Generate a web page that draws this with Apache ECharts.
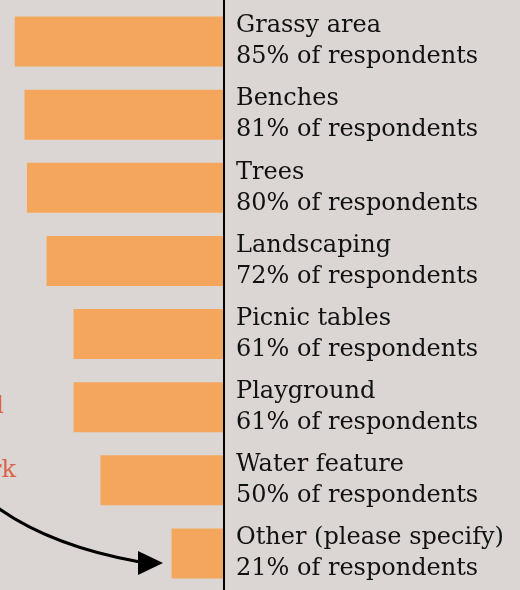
<!DOCTYPE html>
<html>
<head>
<meta charset="utf-8">
<script src="https://cdn.jsdelivr.net/npm/echarts@6/dist/echarts.min.js"></script>
<style>
  html, body { margin: 0; padding: 0; background: #dbd6d4; }
  #chart { width: 520px; height: 590px; }
</style>
</head>
<body>
<div id="chart"></div>
<script>
// 資料
const categories = ['Grassy area', 'Benches', 'Trees', 'Landscaping', 'Picnic tables', 'Playground', 'Water feature', 'Other (please specify)'];
const values = [85, 81, 80, 72, 61, 61, 50, 21];
const valueSuffix = '% of respondents';

const chart = echarts.init(document.getElementById('chart'));

const font = 'DejaVu Serif';

const option = {
    backgroundColor: '#dbd6d4',
    animation: false,
    grid: {
        left: 0,
        right: 297,
        top: 5,
        height: 590
    },
    xAxis: {
        type: 'value',
        inverse: true,
        min: 0,
        max: 91,
        show: false
    },
    yAxis: {
        type: 'category',
        data: categories,
        inverse: true,
        position: 'right',
        axisLine: { show: false },
        axisTick: { show: false },
        axisLabel: {
            align: 'left',
            margin: 13,
            color: '#111',
            fontFamily: font,
            fontSize: 24,
            lineHeight: 31,
            formatter: (name, i) => name + '\n' + values[i] + valueSuffix
        }
    },
    series: [
        {
            type: 'bar',
            data: values,
            barWidth: 50,
            itemStyle: { color: '#f4a75c' }
        }
    ]
};

chart.setOption(option);

// 軸線和註解 (axis line at value 0, cropped annotation on the left)
const x0 = Math.round(chart.convertToPixel({ xAxisIndex: 0 }, 0)) + 1;
chart.setOption({
    graphic: [
        {
            type: 'line',
            shape: { x1: x0, y1: 0, x2: x0, y2: 590 },
            style: { stroke: '#000', lineWidth: 2 },
            z: 10
        },
        {
            type: 'text',
            right: 516,
            top: 395,
            style: { text: 'al', fill: '#d9654a', font: '24px "DejaVu Serif"' }
        },
        {
            type: 'text',
            right: 504,
            top: 459,
            style: { text: 'work', fill: '#d9654a', font: '24px "DejaVu Serif"' }
        },
        {
            type: 'bezierCurve',
            shape: { x1: -10, y1: 502, x2: 140, y2: 562, cpx1: 45, cpy1: 545 },
            style: { stroke: '#000', lineWidth: 3, fill: null }
        },
        {
            type: 'polygon',
            shape: { points: [[138, 551], [138, 575], [163, 563]] },
            style: { fill: '#000' }
        }
    ]
});

window.addEventListener('resize', () => chart.resize());
</script>
</body>
</html>
